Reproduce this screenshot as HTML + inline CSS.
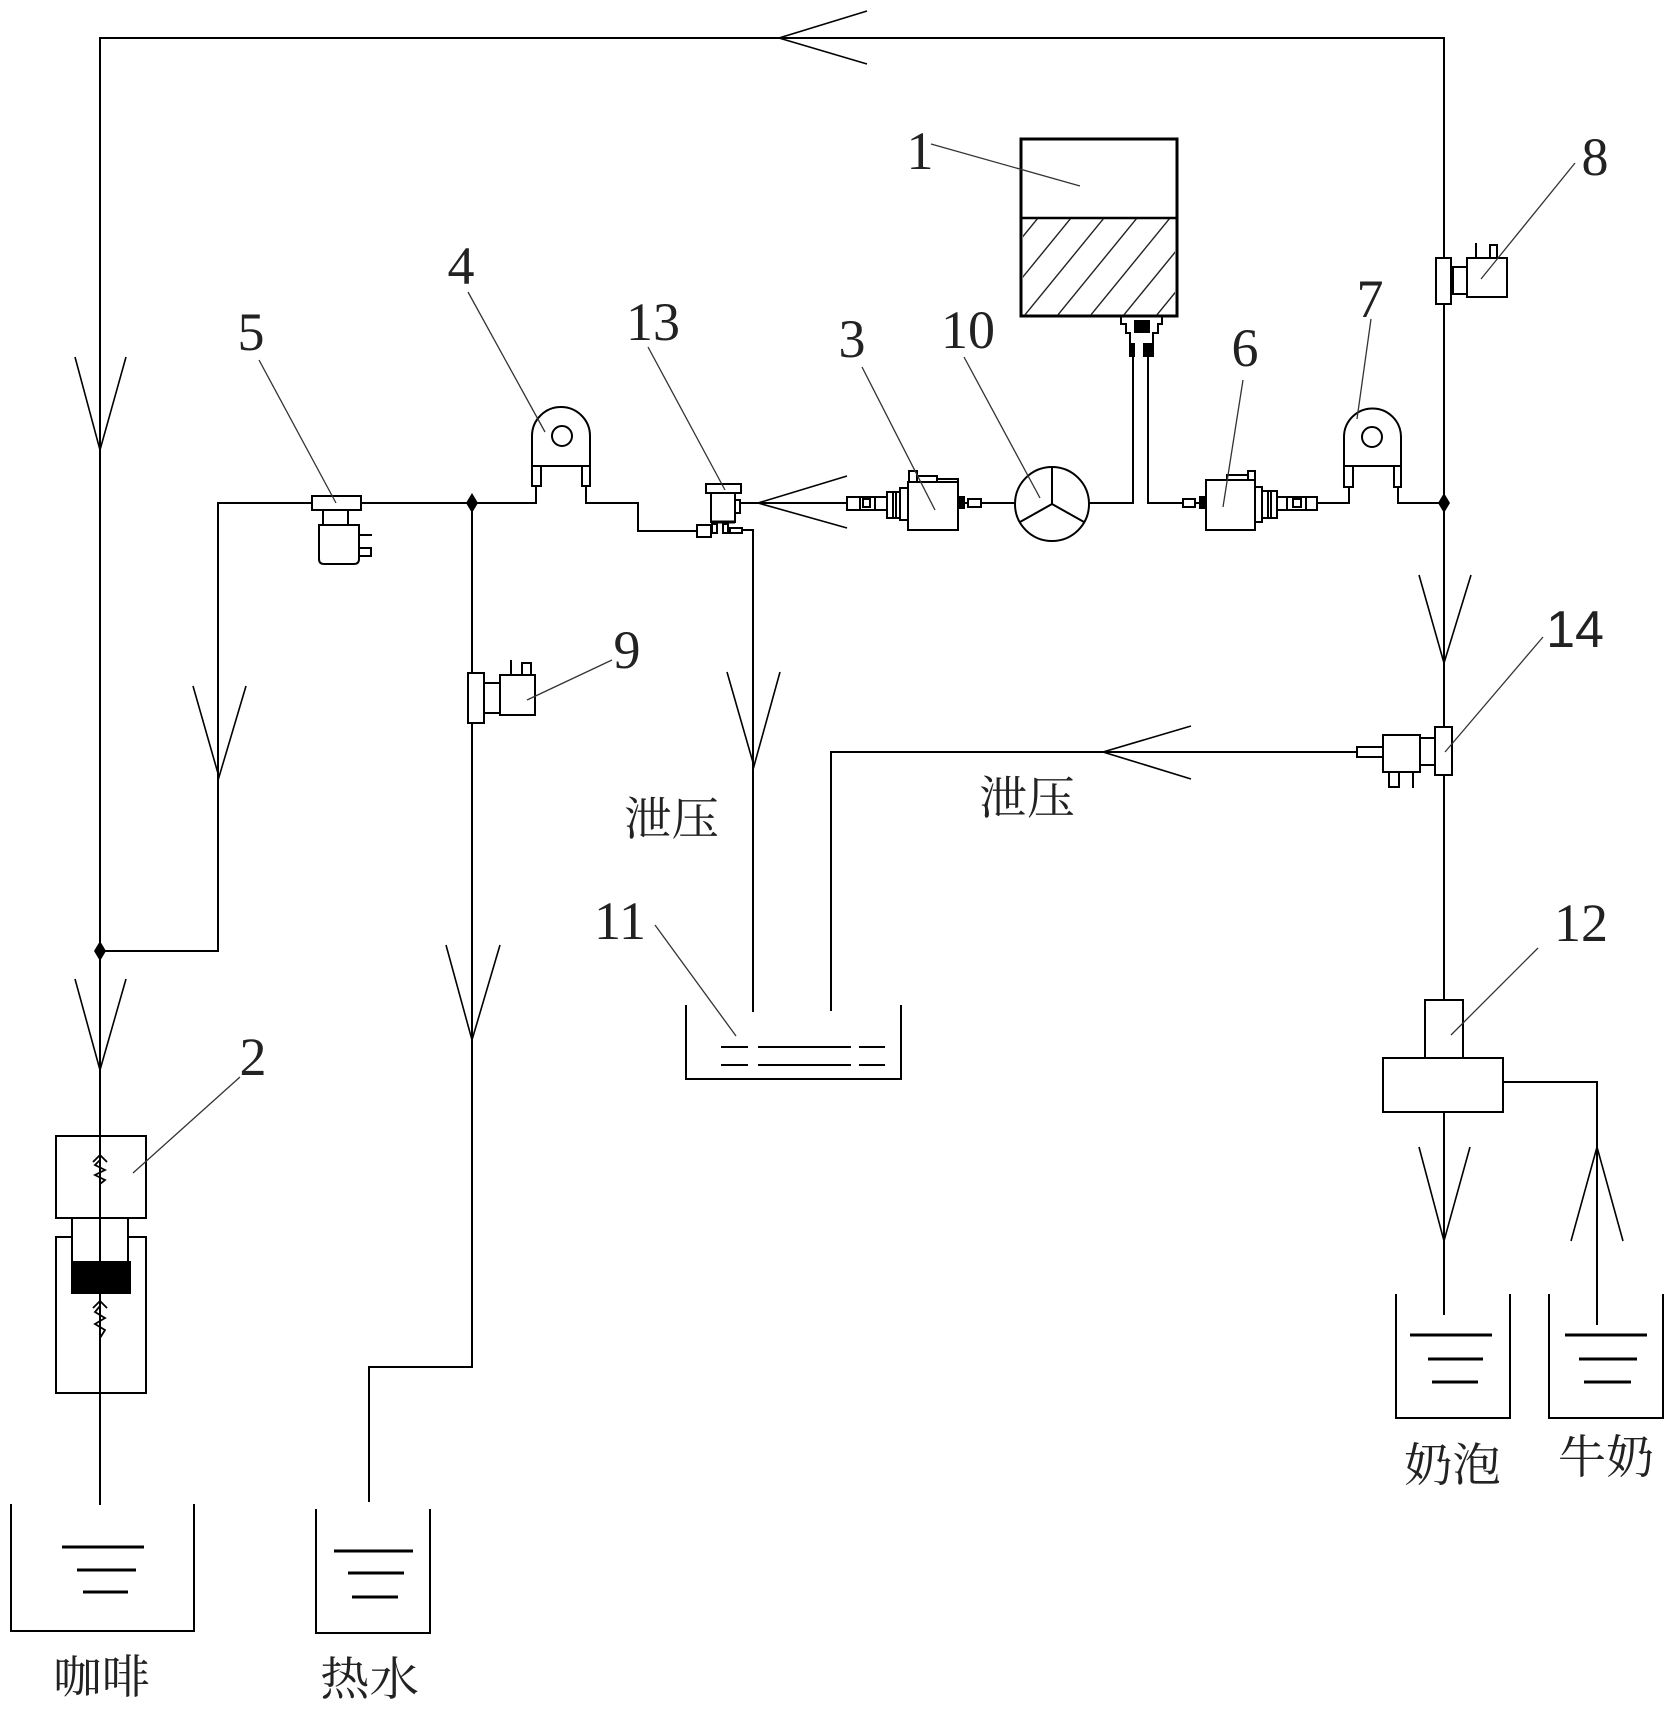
<!DOCTYPE html>
<html>
<head>
<meta charset="utf-8">
<style>
html,body{margin:0;padding:0;background:#fff;}
svg{display:block;}
.n{font-family:"Liberation Serif",serif;font-size:54px;fill:#222;}
.c{font-family:"Liberation Serif","Noto Serif CJK SC","Noto Sans CJK SC",serif;font-size:46px;fill:#222;}
</style>
</head>
<body>
<svg width="1671" height="1715" viewBox="0 0 1671 1715" xmlns="http://www.w3.org/2000/svg">
<g fill="none" stroke="#000" stroke-width="2" stroke-linejoin="miter">
  <!-- top loop -->
  <polyline points="100,1505 100,38 1444,38 1444,1000"/>
  <line x1="1444" y1="1112" x2="1444" y2="1315"/>
  <!-- top arrow -->
  <polyline points="867,11 779,38 867,64" stroke-width="1.6"/>
  <!-- left line arrows -->
  <polyline points="75,357 100,450 126,357" stroke-width="1.6"/>
  <polyline points="75,979 100,1070 126,979" stroke-width="1.6"/>
  <!-- branch via valve 5 -->
  <polyline points="100,951 218,951 218,503 536,503 536,486"/>
  <polyline points="193,686 219,777 246,686" stroke-width="1.6"/>
  <!-- pump 4 -->
  <path d="M532,466 V436 A29,29 0 0 1 590,436 V466 Z"/>
  <circle cx="562" cy="436" r="10"/>
  <rect x="532" y="466" width="9" height="20"/>
  <rect x="582" y="466" width="8" height="20"/>
  <polyline points="586,486 586,503 638,503 638,531 697,531"/>
  <!-- valve 5 -->
  <rect x="312" y="496" width="49" height="14" fill="#fff"/>
  <rect x="323" y="510" width="25" height="15"/>
  <path d="M319,525 H359 V559 Q359,564 354,564 H324 Q319,564 319,559 Z"/>
  <line x1="359" y1="535" x2="372" y2="535"/>
  <rect x="359" y="548" width="12" height="8"/>
  <!-- hot water line -->
  <polyline points="472,503 472,1367 369,1367 369,1502"/>
  <polyline points="446,945 472,1040 500,945" stroke-width="1.6"/>
  <!-- valve 9 -->
  <rect x="468" y="673" width="16" height="50" fill="#fff"/>
  <rect x="484" y="683" width="16" height="30"/>
  <rect x="500" y="675" width="35" height="40"/>
  <line x1="511" y1="660" x2="511" y2="675"/>
  <rect x="522" y="663" width="9" height="12"/>
  <!-- valve 13 -->
  <rect x="706" y="484" width="35" height="9"/>
  <rect x="711" y="493" width="24" height="29"/>
  <rect x="735" y="500" width="5" height="13"/>
  <rect x="697" y="525" width="14" height="12"/>
  <rect x="712" y="524" width="5" height="9"/>
  <rect x="723" y="524" width="5" height="9"/>
  <rect x="730" y="528" width="12" height="5"/>
  <line x1="711" y1="522" x2="735" y2="522" stroke-width="3"/>
  <line x1="740" y1="503" x2="847" y2="503"/>
  <polyline points="742,530 753,530 753,1012"/>
  <polyline points="847,476 758,503 847,528" stroke-width="1.6"/>
  <polyline points="727,672 754,766 780,672" stroke-width="1.6"/>
  <!-- pump 3 -->
  <rect x="847" y="497" width="13" height="13"/>
  <rect x="860" y="497" width="15" height="13"/>
  <rect x="863" y="499" width="7" height="8"/>
  <rect x="875" y="497" width="12" height="13"/>
  <rect x="887" y="492" width="13" height="26"/>
  <line x1="893" y1="492" x2="893" y2="518"/>
  <line x1="896" y1="492" x2="896" y2="518"/>
  <rect x="900" y="488" width="8" height="32"/>
  <rect x="908" y="482" width="50" height="48"/>
  <rect x="909" y="471" width="8" height="11"/>
  <rect x="917" y="476" width="20" height="6"/>
  <rect x="937" y="479" width="21" height="3"/>
  <rect x="958" y="497" width="6" height="11" fill="#000"/>
  <rect x="968" y="499" width="13" height="8"/>
  <line x1="964" y1="503" x2="968" y2="503"/>
  <line x1="981" y1="503" x2="1015" y2="503"/>
  <!-- circle 10 -->
  <circle cx="1052" cy="504" r="37"/>
  <line x1="1052" y1="504" x2="1052" y2="467"/>
  <line x1="1052" y1="504" x2="1020" y2="522"/>
  <line x1="1052" y1="504" x2="1084" y2="522"/>
  <polyline points="1089,503 1133,503 1133,357"/>
  <polyline points="1148,357 1148,503 1183,503"/>
  <!-- tank 1 -->
  <rect x="1021" y="139" width="156" height="177" stroke-width="3"/>
  <line x1="1021" y1="218" x2="1177" y2="218" stroke-width="2.5"/>
  <!-- outlet fitting -->
  <polyline points="1121,316 1121,324 1126,324 1126,333 1130,333 1130,357"/>
  <polyline points="1162,316 1162,324 1158,324 1158,333 1153,333 1153,357"/>
  <rect x="1134" y="320" width="16" height="13" fill="#000" stroke="none"/>
  <rect x="1130" y="343" width="5" height="14" fill="#000" stroke="none"/>
  <rect x="1143" y="343" width="10" height="14" fill="#000" stroke="none"/>
  <!-- pump 6 -->
  <rect x="1183" y="499" width="12" height="8"/>
  <line x1="1195" y1="503" x2="1200" y2="503"/>
  <rect x="1200" y="497" width="6" height="11" fill="#000"/>
  <rect x="1206" y="480" width="49" height="50"/>
  <rect x="1227" y="475" width="21" height="5"/>
  <rect x="1248" y="471" width="7" height="9"/>
  <rect x="1255" y="487" width="7" height="35"/>
  <rect x="1262" y="491" width="15" height="27"/>
  <line x1="1268" y1="491" x2="1268" y2="518"/>
  <line x1="1271" y1="491" x2="1271" y2="518"/>
  <rect x="1277" y="497" width="40" height="13"/>
  <line x1="1287" y1="497" x2="1287" y2="510"/>
  <rect x="1293" y="499" width="8" height="8"/>
  <line x1="1306" y1="497" x2="1306" y2="510"/>
  <polyline points="1317,503 1349,503 1349,487"/>
  <!-- pump 7 -->
  <path d="M1344,466 V437 A28.5,28.5 0 0 1 1401,437 V466 Z"/>
  <circle cx="1372" cy="437" r="10"/>
  <rect x="1344" y="466" width="9" height="21"/>
  <rect x="1394" y="466" width="7" height="21"/>
  <polyline points="1398,487 1398,503 1444,503"/>
  <!-- valve 8 -->
  <rect x="1436" y="258" width="15" height="46" fill="#fff"/>
  <rect x="1453" y="267" width="14" height="27"/>
  <rect x="1467" y="258" width="40" height="39"/>
  <line x1="1476" y1="243" x2="1476" y2="258"/>
  <rect x="1490" y="245" width="7" height="13"/>
  <!-- right arrows -->
  <polyline points="1419,575 1444,663 1471,575" stroke-width="1.6"/>
  <!-- valve 14 -->
  <rect x="1435" y="727" width="17" height="48" fill="#fff"/>
  <rect x="1420" y="738" width="15" height="27"/>
  <rect x="1383" y="735" width="37" height="37"/>
  <rect x="1357" y="747" width="26" height="10"/>
  <polyline points="1389,772 1389,787 1399,787 1399,772"/>
  <line x1="1413" y1="772" x2="1413" y2="788"/>
  <polyline points="1357,752 831,752 831,1011"/>
  <polyline points="1191,726 1103,752 1191,779" stroke-width="1.6"/>
  <!-- container 11 -->
  <polyline points="686,1005 686,1079 901,1079 901,1005"/>
  <!-- component 12 -->
  <rect x="1425" y="1000" width="38" height="58"/>
  <rect x="1383" y="1058" width="120" height="54"/>
  <polyline points="1503,1082 1597,1082 1597,1325"/>
  <polyline points="1419,1147 1444,1241 1470,1147" stroke-width="1.6"/>
  <polyline points="1571,1241 1597,1147 1623,1241" stroke-width="1.6"/>
  <!-- containers bottom right -->
  <polyline points="1396,1294 1396,1418 1510,1418 1510,1294"/>
  <polyline points="1549,1294 1549,1418 1663,1418 1663,1294"/>
  <!-- component 2 -->
  <rect x="56" y="1136" width="90" height="82"/>
  <line x1="72" y1="1218" x2="72" y2="1262"/>
  <line x1="128" y1="1218" x2="128" y2="1262"/>
  <polyline points="72,1237 56,1237 56,1393 146,1393 146,1237 128,1237"/>
  <rect x="72" y="1262" width="58" height="31" fill="#000"/>
  <polyline points="93,1162 100,1155 107,1162" stroke-width="1.8"/>
  <polyline points="100,1160 95,1165 105,1170 95,1175 105,1180 100,1184" stroke-width="1.8"/>
  <polyline points="93,1308 100,1301 107,1308" stroke-width="1.8"/>
  <polyline points="100,1306 95,1312 105,1318 95,1324 105,1330 100,1338" stroke-width="1.8"/>
  <!-- coffee & hot water containers -->
  <polyline points="11,1504 11,1631 194,1631 194,1504"/>
  <polyline points="316,1509 316,1633 430,1633 430,1509"/>
</g>
<!-- junction diamonds -->
<g fill="#000">
  <polygon points="472,493 478,503 472,513 466,503"/>
  <polygon points="1444,493 1450,503 1444,513 1438,503"/>
  <polygon points="100,941 106,951 100,961 94,951"/>
</g>
<!-- liquid lines -->
<g stroke="#000" stroke-width="3">
  <line x1="62" y1="1547" x2="144" y2="1547"/>
  <line x1="77" y1="1570" x2="136" y2="1570"/>
  <line x1="83" y1="1592" x2="128" y2="1592"/>
  <line x1="334" y1="1551" x2="413" y2="1551"/>
  <line x1="348" y1="1573" x2="404" y2="1573"/>
  <line x1="352" y1="1597" x2="398" y2="1597"/>
  <line x1="1410" y1="1335" x2="1492" y2="1335"/>
  <line x1="1428" y1="1359" x2="1483" y2="1359"/>
  <line x1="1432" y1="1382" x2="1478" y2="1382"/>
  <line x1="1565" y1="1335" x2="1647" y2="1335"/>
  <line x1="1579" y1="1359" x2="1637" y2="1359"/>
  <line x1="1584" y1="1382" x2="1631" y2="1382"/>
</g>
<g stroke="#000" stroke-width="2">
  <line x1="721" y1="1047" x2="748" y2="1047"/>
  <line x1="758" y1="1047" x2="851" y2="1047"/>
  <line x1="859" y1="1047" x2="885" y2="1047"/>
  <line x1="721" y1="1065" x2="748" y2="1065"/>
  <line x1="758" y1="1065" x2="851" y2="1065"/>
  <line x1="859" y1="1065" x2="885" y2="1065"/>
</g>
<!-- tank hatch -->
<clipPath id="hc"><rect x="1023" y="219" width="152" height="96"/></clipPath>
<g clip-path="url(#hc)" stroke="#222" stroke-width="1.4">
  <line x1="958" y1="316" x2="1038" y2="218"/>
  <line x1="991" y1="316" x2="1071" y2="218"/>
  <line x1="1024" y1="316" x2="1104" y2="218"/>
  <line x1="1057" y1="316" x2="1137" y2="218"/>
  <line x1="1090" y1="316" x2="1170" y2="218"/>
  <line x1="1123" y1="316" x2="1203" y2="218"/>
  <line x1="1156" y1="316" x2="1236" y2="218"/>
</g>
<!-- leader lines -->
<g stroke="#333" stroke-width="1.3" fill="none">
  <line x1="931" y1="144" x2="1080" y2="186"/>
  <line x1="468" y1="292" x2="545" y2="432"/>
  <line x1="259" y1="360" x2="336" y2="503"/>
  <line x1="648" y1="347" x2="725" y2="490"/>
  <line x1="862" y1="367" x2="935" y2="510"/>
  <line x1="964" y1="357" x2="1040" y2="498"/>
  <line x1="1243" y1="380" x2="1223" y2="507"/>
  <line x1="1371" y1="319" x2="1357" y2="419"/>
  <line x1="1575" y1="163" x2="1481" y2="279"/>
  <line x1="612" y1="660" x2="527" y2="700"/>
  <line x1="1543" y1="637" x2="1445" y2="752"/>
  <line x1="655" y1="925" x2="736" y2="1036"/>
  <line x1="1538" y1="948" x2="1451" y2="1035"/>
  <line x1="240" y1="1077" x2="133" y2="1173"/>
</g>
<!-- number labels -->
<g class="n" text-anchor="middle">
  <text x="920" y="169">1</text>
  <text x="461" y="284">4</text>
  <text x="251" y="350">5</text>
  <text x="653" y="340">13</text>
  <text x="852" y="357">3</text>
  <text x="968" y="348">10</text>
  <text x="1245" y="366">6</text>
  <text x="1370" y="317">7</text>
  <text x="1595" y="175">8</text>
  <text x="627" y="668">9</text>
  <text x="620" y="939">11</text>
  <text x="1581" y="941">12</text>
  <text x="253" y="1075">2</text>
</g>
<text x="1575" y="647" text-anchor="middle" style="font-family:'Liberation Sans',sans-serif;font-size:52px;fill:#222;">14</text>
<!-- CJK labels -->
<g class="c">
  <text x="624" y="835" textLength="95" lengthAdjust="spacingAndGlyphs">泄压</text>
  <text x="979" y="814" textLength="96" lengthAdjust="spacingAndGlyphs">泄压</text>
  <text x="53" y="1693" textLength="97" lengthAdjust="spacingAndGlyphs">咖啡</text>
  <text x="320" y="1695" textLength="99" lengthAdjust="spacingAndGlyphs">热水</text>
  <text x="1404" y="1481" textLength="97" lengthAdjust="spacingAndGlyphs">奶泡</text>
  <text x="1558" y="1473" textLength="96" lengthAdjust="spacingAndGlyphs">牛奶</text>
</g>
</svg>
</body>
</html>
